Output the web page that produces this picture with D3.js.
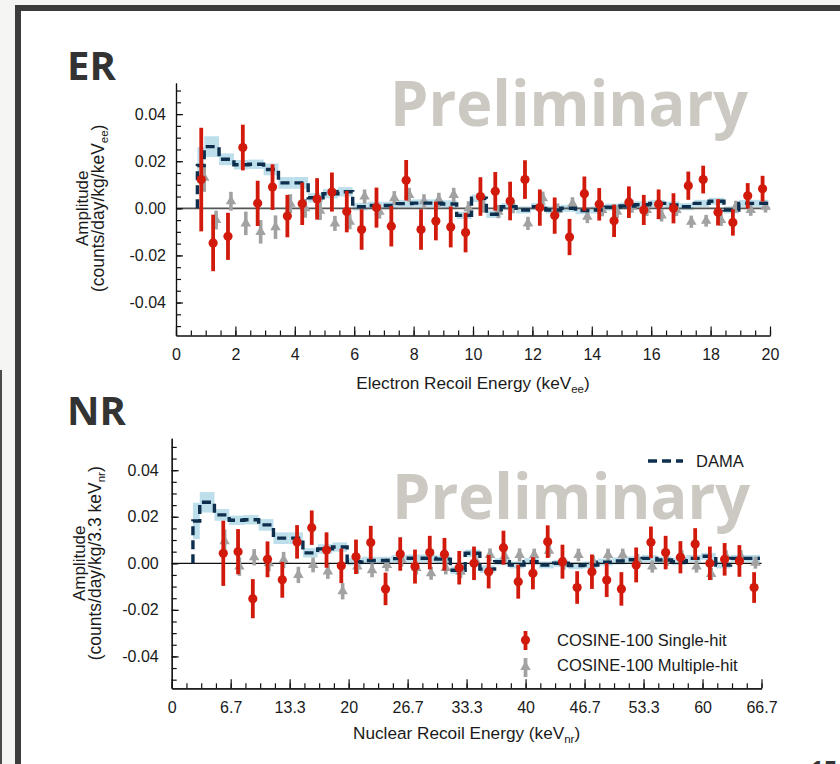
<!DOCTYPE html>
<html>
<head>
<meta charset="utf-8">
<script src="https://cdn.jsdelivr.net/npm/d3@7"></script>
<style>
  body { margin: 0; background: #f5f5f3; }
  svg { display: block; }
</style>
</head>
<body>
<svg id="slide" width="840" height="764"></svg>
<script>
"use strict";

// ---- ER panel data (keVee) ----
var erSingleE = [0.85, 1.25, 1.75, 2.25, 2.75, 3.25, 3.75, 4.25, 4.75, 5.25, 5.75, 6.25, 6.75, 7.25, 7.75,
  8.25, 8.75, 9.25, 9.75, 10.25, 10.75, 11.25, 11.75, 12.25, 12.75, 13.25, 13.75, 14.25, 14.75,
  15.25, 15.75, 16.25, 16.75, 17.25, 17.75, 18.25, 18.75, 19.25, 19.75];
var erSingleAmp = [0.0122, -0.0147, -0.0119, 0.0258, 0.0021, 0.0090, -0.0033, 0.0019, 0.0040, 0.0069,
  -0.0014, -0.0090, 0.0003, -0.0076, 0.0119, -0.0090, -0.0054, -0.0079, -0.0103, 0.0050,
  0.0072, 0.0031, 0.0122, 0.0003, -0.0031, -0.0122, 0.0062, 0.0017, -0.0053, 0.0026,
  -0.0007, 0.0017, 0.0000, 0.0096, 0.0122, -0.0017, -0.0060, 0.0053, 0.0083];
var erSingleErr = [0.0220, 0.0120, 0.0100, 0.0097, 0.0096, 0.0097, 0.0090, 0.0090, 0.0088, 0.0083,
  0.0088, 0.0086, 0.0085, 0.0086, 0.0086, 0.0086, 0.0082, 0.0087, 0.0084, 0.0082,
  0.0082, 0.0082, 0.0082, 0.0077, 0.0077, 0.0077, 0.0073, 0.0069, 0.0069, 0.0067,
  0.0064, 0.0063, 0.0064, 0.0060, 0.0059, 0.0056, 0.0056, 0.0054, 0.0055];

var erMultiE = [0.95, 1.35, 1.85, 2.35, 2.85, 3.35, 3.85, 4.35, 4.85, 5.35, 5.85, 6.35, 6.85, 7.35, 7.85,
  8.35, 8.85, 9.35, 9.85, 10.35, 10.85, 11.35, 11.85, 12.35, 12.85, 13.35, 13.85, 14.35, 14.85,
  15.35, 15.85, 16.35, 16.85, 17.35, 17.85, 18.35, 18.85, 19.35, 19.85];
var erMultiAmp = [0.0130, -0.0050, 0.0030, -0.0064, -0.0100, -0.0080, 0.0020, 0.0000, -0.0010, -0.0064,
  -0.0057, 0.0050, -0.0014, 0.0043, 0.0057, 0.0030, 0.0036, 0.0057, 0.0000, 0.0010,
  -0.0014, 0.0007, -0.0064, 0.0043, -0.0007, 0.0020, -0.0036, -0.0007, -0.0014, 0.0007,
  -0.0007, -0.0030, -0.0007, -0.0057, -0.0053, -0.0050, 0.0007, -0.0007, 0.0007];
var erMultiErr = [0.0060, 0.0040, 0.0040, 0.0050, 0.0050, 0.0050, 0.0040, 0.0040, 0.0040, 0.0032,
  0.0032, 0.0030, 0.0030, 0.0030, 0.0030, 0.0030, 0.0030, 0.0030, 0.0030, 0.0028,
  0.0028, 0.0028, 0.0028, 0.0028, 0.0028, 0.0027, 0.0027, 0.0027, 0.0027, 0.0026,
  0.0026, 0.0026, 0.0026, 0.0026, 0.0025, 0.0025, 0.0025, 0.0025, 0.0025];

// DAMA bins: edges in keVee and in keVnr, shared amplitudes
var damaEdgesEE = [0.72, 0.95, 1.45, 1.95, 2.45, 2.95, 3.45, 3.95, 4.45, 4.95, 5.45, 5.95, 6.45, 6.95,
  7.45, 7.95, 8.45, 8.95, 9.45, 9.95, 10.45, 10.95, 11.45, 11.95, 12.45, 12.95, 13.45, 13.95,
  14.45, 14.95, 15.45, 15.95, 16.45, 16.95, 17.45, 17.95, 18.45, 18.95, 19.45, 19.95];
var damaEdgesNR = [2.4, 3.17, 4.83, 6.5, 8.17, 9.83, 11.5, 13.17, 14.83, 16.5, 18.17, 19.83, 21.5, 23.17,
  24.83, 26.5, 28.17, 29.83, 31.5, 33.17, 34.83, 36.5, 38.17, 39.83, 41.5, 43.17, 44.83, 46.5,
  48.17, 49.83, 51.5, 53.17, 54.83, 56.5, 58.17, 59.83, 61.5, 63.17, 64.83, 66.5];
var damaAmp = [0.0182, 0.0262, 0.0208, 0.0185, 0.0187, 0.0165, 0.0108, 0.0108, 0.0045, 0.0062, 0.0070,
  0.0007, 0.0012, 0.0012, 0.0020, 0.0022, 0.0022, 0.0018, -0.0030, 0.0043, -0.0025,
  0.0007, -0.0007, 0.0007, -0.0007, 0.0000, -0.0010, -0.0007, 0.0005, 0.0010, 0.0015,
  0.0021, 0.0014, 0.0007, 0.0021, 0.0030, -0.0007, 0.0021, 0.0021];
var damaErr = [0.0078, 0.0044, 0.0025, 0.0020, 0.0020, 0.0025, 0.0025, 0.0025, 0.0020, 0.0020, 0.0020,
  0.0016, 0.0016, 0.0016, 0.0016, 0.0016, 0.0016, 0.0016, 0.0016, 0.0016, 0.0016,
  0.0015, 0.0015, 0.0015, 0.0015, 0.0015, 0.0015, 0.0015, 0.0015, 0.0015, 0.0015,
  0.0015, 0.0015, 0.0015, 0.0015, 0.0015, 0.0015, 0.0015, 0.0015];

// ---- NR panel data (keVnr) ----
var nrSingleE = [5.83, 7.5, 9.17, 10.83, 12.5, 14.17, 15.83, 17.5, 19.17, 20.83, 22.5, 24.17, 25.83,
  27.5, 29.17, 30.83, 32.5, 34.17, 35.83, 37.5, 39.17, 40.83, 42.5, 44.17, 45.83, 47.5,
  49.17, 50.83, 52.5, 54.17, 55.83, 57.5, 59.17, 60.83, 62.5, 64.17, 65.83];
var nrSingleAmp = [0.0043, 0.0050, -0.0152, 0.0017, -0.0071, 0.0092, 0.0153, 0.0057, -0.0011, 0.0028,
  0.0089, -0.0110, 0.0040, -0.0014, 0.0046, 0.0039, -0.0019, 0.0000, -0.0036, 0.0067,
  -0.0079, -0.0043, 0.0093, 0.0007, -0.0104, -0.0036, -0.0072, -0.0110, -0.0007, 0.0090,
  0.0046, 0.0026, 0.0083, 0.0000, 0.0017, 0.0010, -0.0104];
var nrSingleErr = [0.0140, 0.0097, 0.0084, 0.0077, 0.0077, 0.0072, 0.0074, 0.0076, 0.0074, 0.0074,
  0.0072, 0.0070, 0.0072, 0.0073, 0.0072, 0.0070, 0.0072, 0.0072, 0.0072, 0.0073,
  0.0073, 0.0069, 0.0070, 0.0073, 0.0070, 0.0074, 0.0073, 0.0072, 0.0075, 0.0068,
  0.0072, 0.0069, 0.0068, 0.0072, 0.0070, 0.0068, 0.0066];

var nrMultiE = [5.98, 7.65, 9.32, 10.98, 12.65, 14.32, 15.98, 17.65, 19.32, 20.98, 22.65, 24.32, 25.98,
  27.65, 29.32, 30.98, 32.65, 34.32, 35.98, 37.65, 39.32, 40.98, 42.65, 44.32, 45.98, 47.65,
  49.32, 50.98, 52.65, 54.32, 55.98, 57.65, 59.32, 60.98, 62.65, 64.32, 65.98];
var nrMultiAmp = [0.0095, -0.0014, 0.0026, 0.0000, 0.0014, -0.0050, -0.0007, -0.0035, -0.0120, -0.0014,
  -0.0030, -0.0007, 0.0014, -0.0020, -0.0043, -0.0020, -0.0036, 0.0014, 0.0036, 0.0030,
  0.0036, 0.0036, 0.0054, 0.0000, 0.0036, 0.0007, 0.0036, 0.0036, 0.0014, -0.0014,
  0.0014, 0.0030, -0.0014, -0.0046, 0.0030, 0.0030, 0.0003];
var nrMultiErr = [0.0050, 0.0040, 0.0035, 0.0035, 0.0035, 0.0035, 0.0032, 0.0032, 0.0035, 0.0030,
  0.0030, 0.0028, 0.0028, 0.0028, 0.0028, 0.0028, 0.0028, 0.0028, 0.0028, 0.0028,
  0.0028, 0.0027, 0.0027, 0.0027, 0.0027, 0.0027, 0.0027, 0.0027, 0.0026, 0.0026,
  0.0026, 0.0026, 0.0026, 0.0026, 0.0026, 0.0026, 0.0026];

// tick labels
var erTickValues = [0, 2, 4, 6, 8, 10, 12, 14, 16, 18, 20];
var nrTickValues = [0, 20/3, 40/3, 20, 80/3, 100/3, 40, 140/3, 160/3, 60, 200/3];
var nrTickLabels = ["0", "6.7", "13.3", "20", "26.7", "33.3", "40", "46.7", "53.3", "60", "66.7"];
var yTickValues = [-0.04, -0.02, 0, 0.02, 0.04];
var yTickLabels = ["-0.04", "-0.02", "0.00", "0.02", "0.04"];

var RED = "#d11a0c", GREY = "#a2a2a2", NAVY = "#0d2f4d", BAND = "#bddfeb";
var FONT = "Liberation Sans, Arial, sans-serif";

var svg = d3.select("#slide");

// slide frame
svg.append("rect").attr("width", 840).attr("height", 764).attr("fill", "#f5f5f3");
svg.append("rect").attr("x", 0).attr("y", 370).attr("width", 2).attr("height", 394).attr("fill", "#4a4a4a");
svg.append("rect").attr("x", 15).attr("y", 5).attr("width", 825).attr("height", 759).attr("fill", "#3b3b3b");
svg.append("rect").attr("x", 21).attr("y", 11).attr("width", 819).attr("height", 753).attr("fill", "#ffffff");
// slide number, mostly below the visible area
svg.append("text").attr("x", 810).attr("y", 778)
  .attr("font-family", "Open Sans").attr("font-weight", 700).attr("font-size", 24)
  .attr("fill", "#333").text("15");

function drawPanel(p) {
  var g = svg.append("g");
  var x = d3.scaleLinear().domain([0, p.xMax]).range([p.left, p.right]);
  var y = d3.scaleLinear().domain(p.yDom).range([p.bottom, p.top]);

  // big labels
  g.append("text").attr("x", 67).attr("y", p.tagY)
    .attr("font-family", "Open Sans").attr("font-weight", 700).attr("font-size", 40)
    .attr("fill", "#333").text(p.tag);
  g.append("text").attr("x", p.prelimX).attr("y", p.prelimY)
    .attr("font-family", "Open Sans").attr("font-weight", 700).attr("font-size", 63)
    .attr("textLength", 358).attr("lengthAdjust", "spacingAndGlyphs")
    .attr("fill", "#ccc8c2").text("Preliminary");

  // DAMA uncertainty band
  g.append("g").selectAll("rect")
    .data(p.damaEdges.slice(0, -1))
    .enter().append("rect")
    .attr("x", function(d) { return x(d); })
    .attr("width", function(d, i) { return x(p.damaEdges[i + 1]) - x(d); })
    .attr("y", function(d, i) { return y(damaAmp[i] + damaErr[i]); })
    .attr("height", function(d, i) { return y(damaAmp[i] - damaErr[i]) - y(damaAmp[i] + damaErr[i]); })
    .attr("fill", BAND);

  // zero line
  g.append("line").attr("x1", p.left).attr("x2", p.right)
    .attr("y1", y(0)).attr("y2", y(0))
    .attr("stroke", p.zeroColor).attr("stroke-width", p.zeroWidth);

  // multiple-hit (grey)
  var multi = g.append("g").selectAll("g")
    .data(p.multiE.map(function(e, i) { return { e: e, a: p.multiAmp[i], s: p.multiErr[i] }; }))
    .enter().append("g");
  multi.append("line")
    .attr("x1", function(d) { return x(d.e); }).attr("x2", function(d) { return x(d.e); })
    .attr("y1", function(d) { return y(d.a + d.s); }).attr("y2", function(d) { return y(d.a - d.s); })
    .attr("stroke", GREY).attr("stroke-width", 3.6);
  multi.append("path")
    .attr("d", d3.symbol().type(d3.symbolTriangle).size(48))
    .attr("transform", function(d) { return "translate(" + x(d.e) + "," + y(d.a) + ")"; })
    .attr("fill", GREY);

  // DAMA dashed step line
  var pts = [[p.damaEdges[0], 0]];
  damaAmp.forEach(function(a, i) {
    pts.push([p.damaEdges[i], a]);
    pts.push([p.damaEdges[i + 1], a]);
  });
  g.append("path")
    .datum(pts)
    .attr("d", d3.line().x(function(d) { return x(d[0]); }).y(function(d) { return y(d[1]); }))
    .attr("fill", "none").attr("stroke", NAVY).attr("stroke-width", 3.4)
    .attr("stroke-dasharray", "9,5");

  // single-hit (red)
  var single = g.append("g").selectAll("g")
    .data(p.singleE.map(function(e, i) { return { e: e, a: p.singleAmp[i], s: p.singleErr[i] }; }))
    .enter().append("g");
  single.append("line")
    .attr("x1", function(d) { return x(d.e); }).attr("x2", function(d) { return x(d.e); })
    .attr("y1", function(d) { return y(d.a + d.s); }).attr("y2", function(d) { return y(d.a - d.s); })
    .attr("stroke", RED).attr("stroke-width", 3.8);
  single.append("circle")
    .attr("cx", function(d) { return x(d.e); }).attr("cy", function(d) { return y(d.a); })
    .attr("r", 4.6).attr("fill", RED);

  // axes
  var xMajor = d3.axisBottom(x).tickValues(p.xTicks).tickSizeInner(-9).tickSizeOuter(0).tickPadding(13)
    .tickFormat(function(d, i) { return p.xLabels[i]; });
  var xMinor = d3.axisBottom(x).tickValues(p.xMinor).tickSizeInner(-5).tickSizeOuter(0).tickFormat("");
  var yMajor = d3.axisLeft(y).tickValues(yTickValues).tickSizeInner(-7).tickSizeOuter(0).tickPadding(p.yPad)
    .tickFormat(function(d, i) { return yTickLabels[i]; });
  var yMinor = d3.axisLeft(y).tickValues(d3.range(-0.05, 0.0501, 0.005)).tickSizeInner(-5).tickSizeOuter(0).tickFormat("");

  function styleAxis(s) {
    s.selectAll("line, path").attr("stroke", "#111").attr("stroke-width", 1.2);
    s.selectAll("text").attr("font-family", FONT).attr("font-size", 16).attr("fill", "#1a1a1a");
  }
  [xMinor, xMajor].forEach(function(ax) {
    g.append("g").attr("transform", "translate(0," + p.bottom + ")").call(ax).call(styleAxis);
  });
  [yMinor, yMajor].forEach(function(ax) {
    g.append("g").attr("transform", "translate(" + p.left + ",0)").call(ax).call(styleAxis);
  });

  // axis titles
  var xt = g.append("text").attr("x", (p.left + p.right) / 2).attr("y", p.xTitleY)
    .attr("text-anchor", "middle").attr("font-family", FONT).attr("font-size", 17.2).attr("fill", "#1a1a1a");
  xt.append("tspan").text(p.xTitle);
  xt.append("tspan").attr("font-size", 11.5).attr("dy", 4).text(p.sub);
  xt.append("tspan").attr("dy", -4).text(")");

  var yt = g.append("g").attr("transform", "translate(" + p.yTitleX + "," + y(0) + ") rotate(-90)");
  yt.append("text").attr("text-anchor", "middle").attr("y", 0)
    .attr("font-family", FONT).attr("font-size", 17).attr("fill", "#1a1a1a").text("Amplitude");
  var l2 = yt.append("text").attr("text-anchor", "middle").attr("y", 16)
    .attr("font-family", FONT).attr("font-size", 17.5).attr("fill", "#1a1a1a");
  l2.append("tspan").text(p.yTitle);
  l2.append("tspan").attr("font-size", 11.5).attr("dy", 4).text(p.sub);
  l2.append("tspan").attr("dy", -4).text(")");

  return { x: x, y: y, g: g };
}

drawPanel({
  tag: "ER", tagY: 80, prelimX: 390, prelimY: 126,
  left: 176, right: 770, top: 83, bottom: 335.5, xMax: 20, yDom: [-0.054, 0.0532],
  xTicks: erTickValues, xLabels: erTickValues.map(String), xMinor: d3.range(0, 20.01, 0.5),
  yPad: 10, zeroColor: "#555", zeroWidth: 1.8,
  damaEdges: damaEdgesEE,
  singleE: erSingleE, singleAmp: erSingleAmp, singleErr: erSingleErr,
  multiE: erMultiE, multiAmp: erMultiAmp, multiErr: erMultiErr,
  xTitle: "Electron Recoil Energy (keV", sub: "ee", xTitleY: 389,
  yTitle: "(counts/day/kg/keV", yTitleX: 88
});

drawPanel({
  tag: "NR", tagY: 425, prelimX: 392, prelimY: 519,
  left: 171.7, right: 761.5, top: 438.3, bottom: 688.3, xMax: 200/3, yDom: [-0.0537, 0.0537],
  xTicks: nrTickValues, xLabels: nrTickLabels, xMinor: d3.range(0, 41).map(function(k) { return k * 5 / 3; }),
  yPad: 13, zeroColor: "#111", zeroWidth: 1.3,
  damaEdges: damaEdgesNR,
  singleE: nrSingleE, singleAmp: nrSingleAmp, singleErr: nrSingleErr,
  multiE: nrMultiE, multiAmp: nrMultiAmp, multiErr: nrMultiErr,
  xTitle: "Nuclear Recoil Energy (keV", sub: "nr", xTitleY: 739,
  yTitle: "(counts/day/kg/3.3 keV", yTitleX: 85
});

// legend (NR panel)
var lg = svg.append("g").attr("font-family", FONT).attr("font-size", 16.5).attr("fill", "#1a1a1a");
lg.append("line").attr("x1", 648).attr("x2", 683).attr("y1", 461).attr("y2", 461)
  .attr("stroke", NAVY).attr("stroke-width", 3.4).attr("stroke-dasharray", "9,5");
lg.append("text").attr("x", 696).attr("y", 467).text("DAMA");
lg.append("line").attr("x1", 525.5).attr("x2", 525.5).attr("y1", 631).attr("y2", 650)
  .attr("stroke", RED).attr("stroke-width", 3.8);
lg.append("circle").attr("cx", 525.5).attr("cy", 640).attr("r", 4.6).attr("fill", RED);
lg.append("text").attr("x", 557).attr("y", 646).text("COSINE-100 Single-hit");
lg.append("line").attr("x1", 525.5).attr("x2", 525.5).attr("y1", 658).attr("y2", 677)
  .attr("stroke", GREY).attr("stroke-width", 3.8);
lg.append("path").attr("d", d3.symbol().type(d3.symbolTriangle).size(48)())
  .attr("transform", "translate(525.5,667)").attr("fill", GREY);
lg.append("text").attr("x", 557).attr("y", 671).text("COSINE-100 Multiple-hit");
</script>
</body>
</html>
